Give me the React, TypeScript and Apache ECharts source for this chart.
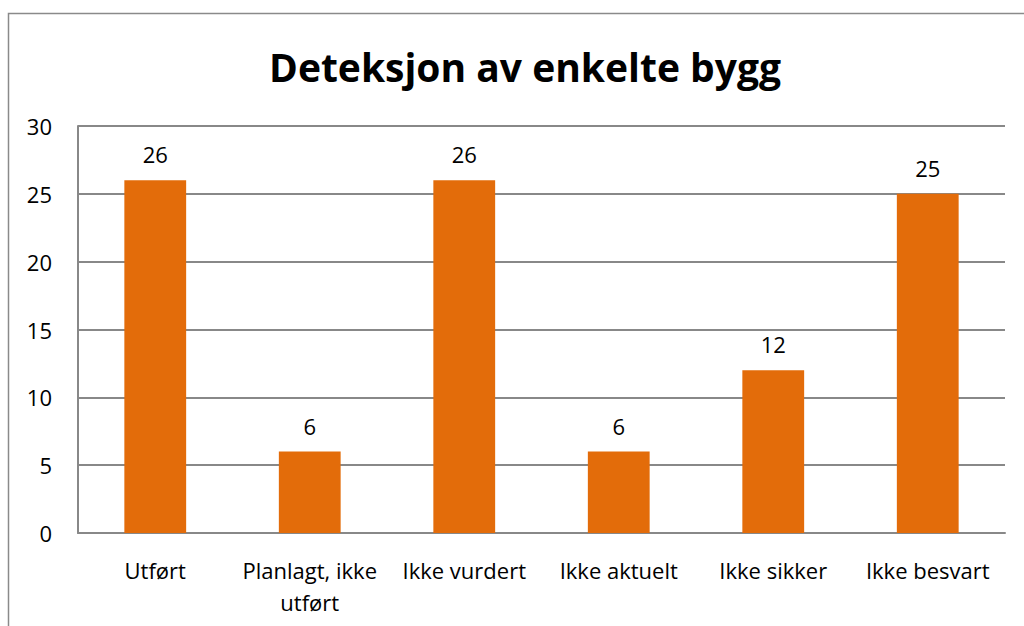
import React, { useEffect, useRef } from "react";
import * as echarts from "echarts";

const title = "Deteksjon av enkelte bygg";
const categories = ["Utført", "Planlagt, ikke\nutført", "Ikke vurdert", "Ikke aktuelt", "Ikke sikker", "Ikke besvart"];
const values = [26, 6, 26, 6, 12, 25];
const yMin = 0;
const yMax = 30;
const yStep = 5;

const FONT = "'Open Sans', 'Noto Sans', sans-serif";

export default function App() {
  const ref = useRef<HTMLDivElement>(null);
  useEffect(() => {
    if (!ref.current) return;
    const chart = echarts.init(ref.current, undefined, { renderer: "svg" });
    chart.setOption({
      animation: false,
      backgroundColor: "#ffffff",
      title: {
        text: title,
        left: 520,
        textAlign: "center",
        top: 42,
        textStyle: { fontFamily: FONT, fontSize: 39, fontWeight: "bold", color: "#000000" },
      },
      graphic: [
        {
          type: "polyline",
          shape: { points: [[8.5, 700], [8.5, 13.5], [1100, 13.5]] },
          style: { stroke: "#8a8a8a", lineWidth: 1.5, fill: "none" },
          silent: true,
        },
      ],
      grid: { left: 78, right: 19, top: 126, bottom: 93, containLabel: false },
      xAxis: {
        type: "category",
        data: categories,
        axisLine: { show: true, lineStyle: { color: "#888888", width: 2 } },
        axisTick: { show: false },
        axisLabel: {
          interval: 0,
          margin: 21,
          fontFamily: FONT,
          fontSize: 22,
          lineHeight: 32,
          color: "#000000",
        },
      },
      yAxis: {
        type: "value",
        min: yMin,
        max: yMax,
        interval: yStep,
        axisLine: { show: true, lineStyle: { color: "#888888", width: 2 } },
        axisTick: { show: false },
        splitLine: { show: true, lineStyle: { color: "#888888", width: 2 } },
        axisLabel: { margin: 26, fontFamily: FONT, fontSize: 22, color: "#000000" },
      },
      series: [
        {
          type: "bar",
          data: values,
          barWidth: "40%",
          itemStyle: { color: "#E36C0A" },
          label: {
            show: true,
            position: "top",
            distance: 15,
            fontFamily: FONT,
            fontSize: 22,
            color: "#000000",
          },
        },
      ],
    });
    return () => chart.dispose();
  }, []);
  return (
    <div
      ref={ref}
      style={{ position: "absolute", left: 0, top: 0, width: 1024, height: 626 }}
    />
  );
}
